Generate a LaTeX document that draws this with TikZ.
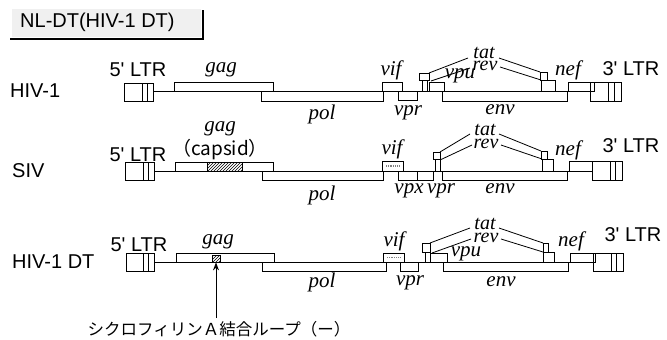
\documentclass[tikz,border=0pt]{standalone}
\usepackage{fontspec}
\newfontfamily\lsans{Liberation Sans}
\newfontfamily\genefont{Liberation Serif}
\newfontfamily\jpfont{Noto Sans CJK JP}
\usetikzlibrary{patterns,arrows.meta}
\begin{document}
\begin{tikzpicture}[x=1pt,y=-1pt,
  gl/.style={line width=0.8pt},
  slab/.style={font=\lsans\fontsize{20}{22}\selectfont, inner sep=0},
  glab/.style={font=\genefont\itshape\fontsize{21}{23}\selectfont, inner sep=0, anchor=base},
  splab/.style={font=\genefont\itshape\fontsize{20}{22}\selectfont, inner sep=0, anchor=base},
  hatchfill/.style={pattern=north east lines},
  texture/.style={gray, line width=1.6pt, dash pattern=on 1pt off 0.8pt},
  arrowst/.style={line width=1pt, -{Stealth[length=8pt,width=6pt]}}]
\useasboundingbox (0,0) rectangle (667,340);

% ---------------- title
\fill[black!6] (12,9) rectangle (201,37);
\node[slab, anchor=west] (title) at (20,22) {NL-DT(HIV-1 DT)};
\draw[line width=2.2pt] (10,39) -- (204,39);
\draw[line width=2.2pt] (203,10) -- (203,40);

% ================= Row 1: HIV-1 (line y = 91)
\node[slab, anchor=west] (r1name) at (10,91) {HIV-1};
\draw[gl] (153,91) -- (590,91);
\draw[gl] (124,83) rectangle (153,101) (142,83) -- (142,101) (147,83) -- (147,101);
\draw[gl] (174,82) rectangle (273,91);
\draw[gl] (261,91) rectangle (383,101);
\draw[gl] (382,82) rectangle (402,91);
\draw[gl] (398,91) rectangle (417,100);
\draw[gl] (419,73) rectangle (429,80);
\draw[gl] (422,80) rectangle (427,91);
\draw[gl] (429,82) rectangle (444,91);
\draw[gl] (442,91) rectangle (567,101);
\draw[gl] (540,72) rectangle (547,80);
\draw[gl] (541,80) rectangle (555,91);
\draw[gl] (568,82) rectangle (594,91);
\draw[gl] (590,82) rectangle (621,101) (608,82) -- (608,101) (614,82) -- (614,101);
\draw[gl] (429,73) -- (468,58) (431,81) -- (470,68) (499,58) -- (540,72) (500,67) -- (541,80);
\node[slab] (r1l5) at (138,70) {5' LTR};
\node[slab] (r1l3) at (631,69) {3' LTR};
\node[glab] (r1gag) at (221,72) {gag};
\node[glab] (r1pol) at (322,119) {pol};
\node[glab] (r1vif) at (391,75) {vif};
\node[glab] (r1vpr) at (408,115) {vpr};
\node[splab] (r1tat) at (484,58) {tat};
\node[splab] (r1rev) at (485,70) {rev};
\node[glab] (r1vpu) at (460,78) {vpu};
\node[glab] (r1env) at (500,114) {env};
\node[glab] (r1nef) at (568,75) {nef};

% ================= Row 2: SIV (line y = 171)
\node[slab, anchor=west] (r2name) at (12,171) {SIV};
\draw[gl] (154,171) -- (592,171);
\draw[gl] (125,162) rectangle (154,180) (143,162) -- (143,180) (148,162) -- (148,180);
\draw[gl] (175,162) rectangle (273,171);
\draw[gl, hatchfill] (207,162) rectangle (242,171);
\draw[gl] (262,171) rectangle (383,180);
\draw[gl] (382,161) rectangle (403,171);
\draw[texture] (386,166) -- (399,166);
\draw[gl] (398,171) rectangle (417,180);
\draw[gl] (417,171) rectangle (433,180);
\draw[gl] (433,152) rectangle (440,159);
\draw[gl] (435,159) rectangle (440,171);
\draw[gl] (442,171) rectangle (567,180);
\draw[gl] (541,151) rectangle (547,159);
\draw[gl] (542,159) rectangle (553,171);
\draw[gl] (569,161) rectangle (592,171);
\draw[gl] (592,161) rectangle (622,180) (610,161) -- (610,180) (615,161) -- (615,180);
\draw[gl] (440,152) -- (470,134) (440,160) -- (472,145) (499,134) -- (541,151) (501,145) -- (542,159);
\node[slab] (r2l5) at (138,155) {5' LTR};
\node[slab] (r2l3) at (631,146) {3' LTR};
\node[glab] (r2gag) at (220,131) {gag};
\node[font=\jpfont\fontsize{19}{21}\selectfont, inner sep=0] (r2cap) at (220,150) {（capsid）};
\node[glab] (r2pol) at (322,200) {pol};
\node[glab] (r2vif) at (392,154) {vif};
\node[glab] (r2vpx) at (409,193) {vpx};
\node[glab] (r2vpr) at (441,193) {vpr};
\node[splab] (r2tat) at (485,135) {tat};
\node[splab] (r2rev) at (486,148) {rev};
\node[glab] (r2env) at (500,193) {env};
\node[glab] (r2nef) at (568,155) {nef};

% ================= Row 3: HIV-1 DT (line y = 262)
\node[slab, anchor=west] (r3name) at (12,262) {HIV-1 DT};
\draw[gl] (154,262) -- (593,262);
\draw[gl] (126,253) rectangle (154,271) (143,253) -- (143,271) (148,253) -- (148,271);
\draw[gl] (176,253) rectangle (274,262);
\node[draw, line width=0.8pt, hatchfill, minimum width=8pt, minimum height=7pt, inner sep=0] (hatch3) at (216,258.5) {};
\draw[gl] (262,262) rectangle (386,271);
\draw[gl] (383,253) rectangle (404,262);
\draw[texture] (387,257.5) -- (400,257.5);
\draw[gl] (400,262) rectangle (418,271);
\draw[gl] (422,243) rectangle (430,252);
\draw[gl] (425,252) rectangle (430,262);
\draw[gl] (430,253) rectangle (447,262);
\draw[gl] (443,262) rectangle (568,271);
\draw[gl] (543,243) rectangle (548,252);
\draw[gl] (543,252) rectangle (554,262);
\draw[gl] (570,253) rectangle (595,262);
\draw[gl] (593,253) rectangle (623,271) (611,253) -- (611,271) (616,253) -- (616,271);
\draw[gl] (430,243) -- (470,228) (432,253) -- (471,239) (499,228) -- (543,243) (501,239) -- (543,252);
\node[slab] (r3l5) at (139,245) {5' LTR};
\node[slab] (r3l3) at (633,235) {3' LTR};
\node[glab] (r3gag) at (218,244) {gag};
\node[glab] (r3pol) at (322,287) {pol};
\node[glab] (r3vif) at (394,246) {vif};
\node[glab] (r3vpr) at (410,285) {vpr};
\node[splab] (r3tat) at (485,229) {tat};
\node[splab] (r3rev) at (486,242) {rev};
\node[glab] (r3vpu) at (466,256) {vpu};
\node[glab] (r3env) at (501,286) {env};
\node[glab] (r3nef) at (571,246) {nef};

% Japanese label and arrow
\node[font=\jpfont\fontsize{16.5}{18}\selectfont, inner sep=0] (jp) at (219,329) {シクロフィリンＡ結合ループ（ー）};
\coordinate (arrowfoot) at (216,318);
\draw[arrowst] (arrowfoot) -- (hatch3.south);
\end{tikzpicture}
\end{document}
